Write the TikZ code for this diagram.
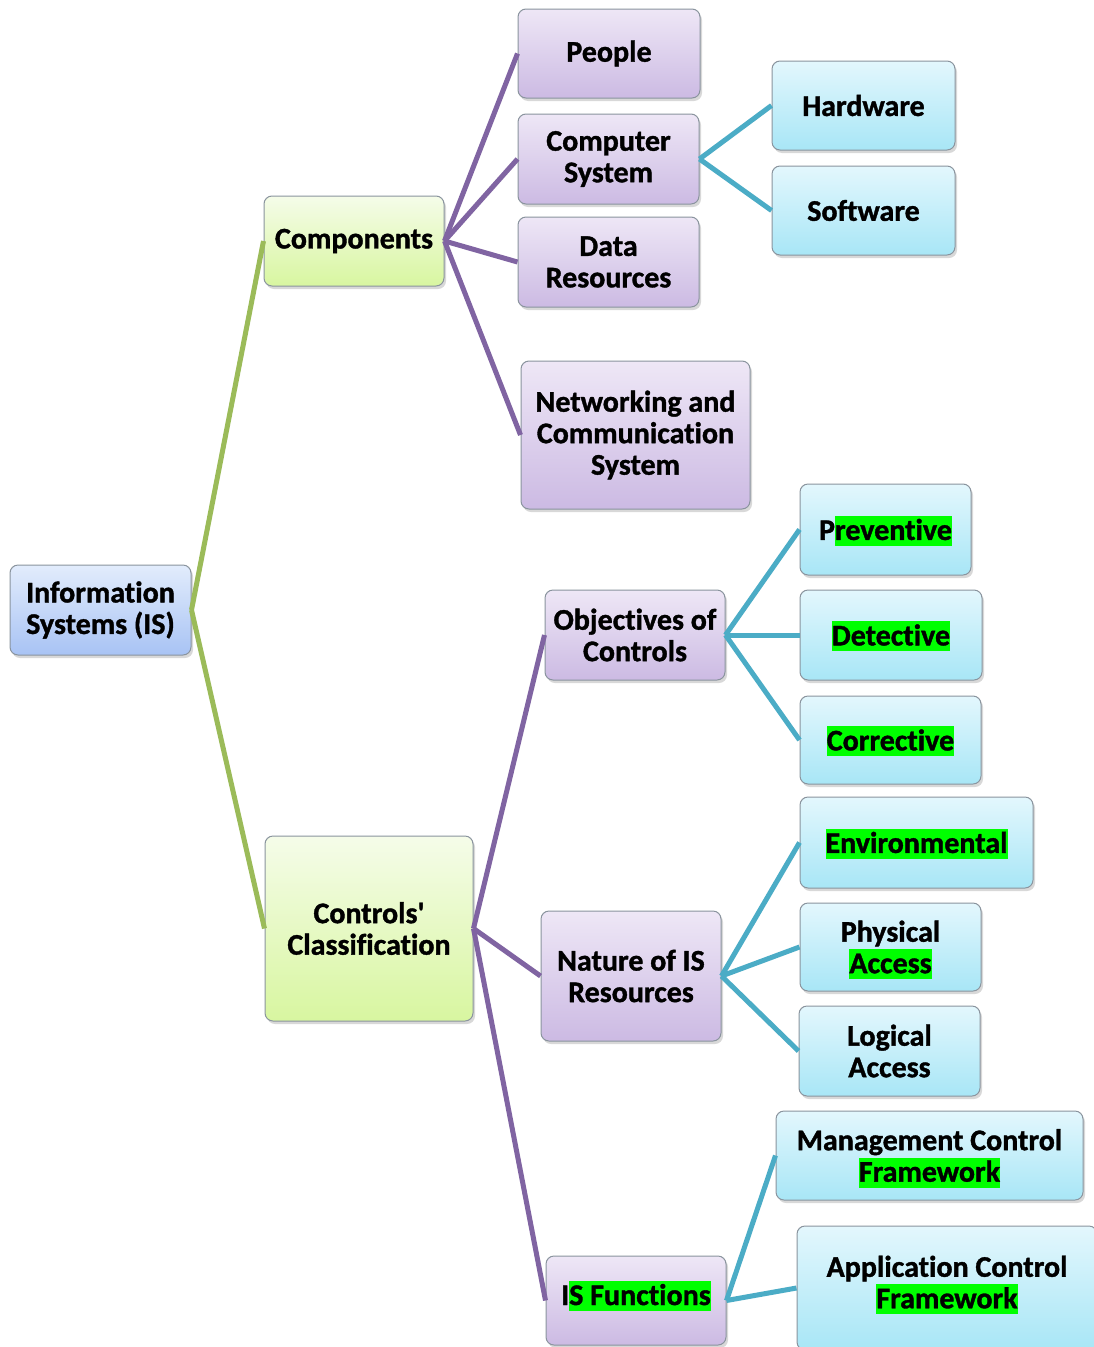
\documentclass[tikz,border=0pt]{standalone}
\usepackage{fontspec}
\setmainfont{Carlito}[Ligatures=NoCommon, BoldFeatures={FakeBold=1.2}]
\usetikzlibrary{shadows}

\definecolor{rootline}{HTML}{9BBB59}
\definecolor{midline}{HTML}{8064A2}
\definecolor{leafline}{HTML}{4BACC6}
\definecolor{hlgreen}{HTML}{00FF00}
\definecolor{boxedge}{HTML}{8A949E}
\definecolor{rootTop}{HTML}{E2ECFC}
\definecolor{rootBot}{HTML}{A8C3F4}
\definecolor{greenTop}{HTML}{F5FCE9}
\definecolor{greenBot}{HTML}{D8F6A0}
\definecolor{purpleTop}{HTML}{EEE7F6}
\definecolor{purpleBot}{HTML}{CCBAE3}
\definecolor{blueTop}{HTML}{E3F7FD}
\definecolor{blueBot}{HTML}{A8E6F6}

\newcommand\hlt[1]{\smash{\fboxsep=0pt\colorbox{hlgreen}{\rule[-6pt]{0pt}{30pt}#1}}\vphantom{#1}}

\tikzset{
  box/.style={draw=boxedge, line width=1pt, rounded corners=8pt, align=center,
    inner sep=2pt, font=\fontsize{30}{31.5}\selectfont\bfseries,
    drop shadow={shadow xshift=2pt, shadow yshift=-3pt, opacity=0.3, fill=gray}},
  rootbox/.style={box, top color=rootTop, bottom color=rootBot},
  greenbox/.style={box, top color=greenTop, bottom color=greenBot},
  purplebox/.style={box, top color=purpleTop, bottom color=purpleBot},
  bluebox/.style={box, top color=blueTop, bottom color=blueBot},
  link/.style={line width=5pt},
}

\begin{document}
\begin{tikzpicture}[x=1pt,y=-1pt]
  \fill[white] (0,0) rectangle (1094,1347);
  \useasboundingbox (0,0) rectangle (1094,1347);

  \node[rootbox, minimum width=181pt, minimum height=90pt] (is) at (100.5,610)
    {Information\\Systems (IS)};

  \node[greenbox, minimum width=180pt, minimum height=90pt] (comp) at (354,241)
    {Components};
  \node[greenbox, minimum width=208pt, minimum height=185pt] (ctrl) at (369,928.5)
    {Controls\textquotesingle\\Classification};

  \node[purplebox, minimum width=182pt, minimum height=89pt] (people) at (609,53.5)
    {People};
  \node[purplebox, minimum width=181pt, minimum height=90pt] (compsys) at (608.5,159)
    {Computer\\System};
  \node[purplebox, minimum width=181pt, minimum height=90pt] (data) at (608.5,262)
    {Data\\Resources};
  \node[purplebox, minimum width=229pt, minimum height=148pt] (net) at (635.5,435)
    {Networking and\\Communication\\System};
  \node[purplebox, minimum width=180pt, minimum height=90pt] (obj) at (635,635)
    {Objectives of\\Controls};
  \node[purplebox, minimum width=180pt, minimum height=130pt] (nature) at (631,976)
    {Nature of IS\\Resources};
  \node[purplebox, minimum width=180pt, minimum height=89pt, text depth=12pt] (isf) at (636,1300.5)
    {I\hlt{S Functions}};

  \node[bluebox, minimum width=183pt, minimum height=89pt] (hw) at (863.5,105.5)
    {Hardware};
  \node[bluebox, minimum width=183pt, minimum height=89pt] (sw) at (863.5,210.5)
    {Software};
  \node[bluebox, minimum width=171pt, minimum height=91pt] (prev) at (885.5,529.5)
    {P\hlt{reventive}};
  \node[bluebox, minimum width=182pt, minimum height=90pt] (det) at (891,635)
    {\hlt{Detective}};
  \node[bluebox, minimum width=181pt, minimum height=88pt] (corr) at (890.5,740)
    {\hlt{Corrective}};
  \node[bluebox, minimum width=233pt, minimum height=91pt] (env) at (916.5,842.5)
    {\hlt{Environmental}};
  \node[bluebox, minimum width=181pt, minimum height=88pt] (phys) at (890.5,947)
    {Physical\\\hlt{Access}};
  \node[bluebox, minimum width=181pt, minimum height=90pt] (logic) at (889.5,1051)
    {Logical\\Access};
  \node[bluebox, minimum width=307pt, minimum height=89pt] (mgmt) at (929.5,1155.5)
    {Management Control\\\hlt{Framework}};
  \node[bluebox, minimum width=300pt, minimum height=124pt, text depth=12pt] (app) at (947,1288)
    {Application Control\\\hlt{Framework}};

  \foreach \kid in {comp,ctrl}
    \draw[link, rootline] (is.east) -- (\kid.west);
  \foreach \kid in {people,compsys,data,net}
    \draw[link, midline] (comp.east) -- (\kid.west);
  \foreach \kid in {obj,nature,isf}
    \draw[link, midline] (ctrl.east) -- (\kid.west);
  \foreach \kid in {hw,sw}
    \draw[link, leafline] (compsys.east) -- (\kid.west);
  \foreach \kid in {prev,det,corr}
    \draw[link, leafline] (obj.east) -- (\kid.west);
  \foreach \kid in {env,phys,logic}
    \draw[link, leafline] (nature.east) -- (\kid.west);
  \foreach \kid in {mgmt,app}
    \draw[link, leafline] (isf.east) -- (\kid.west);
\end{tikzpicture}
\end{document}
